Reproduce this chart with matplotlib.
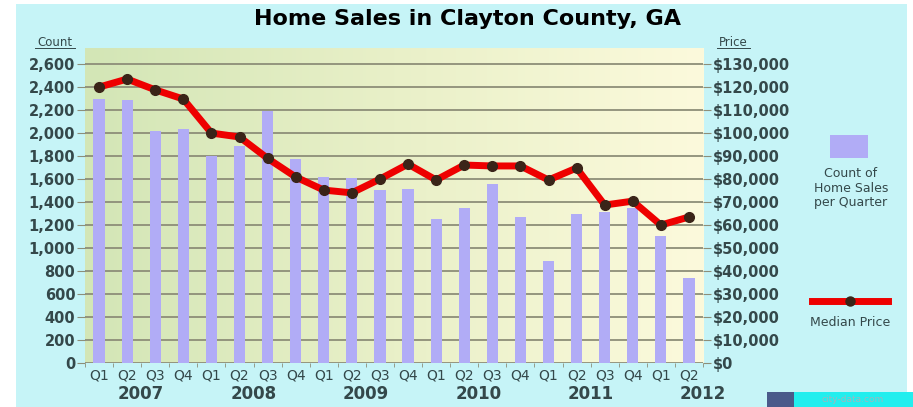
import numpy as np
import matplotlib
matplotlib.use("Agg")
import matplotlib.pyplot as plt
import matplotlib.transforms as mtransforms
from matplotlib.patches import Rectangle
from matplotlib.lines import Line2D

plt.rcParams["font.family"] = ["DejaVu Sans"]

quarters = ["Q1", "Q2", "Q3", "Q4"] * 5 + ["Q1", "Q2"]
years = ["2007", "2008", "2009", "2010", "2011", "2012"]
counts = [2300, 2290, 2020, 2035, 1800, 1890, 2190, 1775, 1620, 1610, 1505, 1515,
          1252, 1345, 1555, 1270, 888, 1298, 1315, 1345, 1104, 740]
prices = [120000, 123500, 118800, 114800, 100000, 98300, 89000, 80900, 75200, 74000,
          80000, 86500, 79600, 86100, 85700, 85700, 79600, 84800, 68700, 70400, 60000, 63500]
count_ticks = list(range(0, 2601, 200))
price_ticks = list(range(0, 130001, 10000))

txt = "#34484a"
bg = "#c6f4f7"
gridc = "#8d8e78"

fig = plt.figure(figsize=(9.13, 4.07), dpi=100)
fig.patch.set_facecolor("white")
fig.patches.append(Rectangle((16 / 913, 0), 891 / 913, 403 / 407, transform=fig.transFigure,
                             facecolor=bg, edgecolor="none", zorder=-10))

ax = fig.add_axes([85 / 913, 44 / 407, 618 / 913, 315 / 407])
ax.patch.set_alpha(0)
x = np.arange(len(counts))

# gradient plot background (green left -> pale yellow right)
grad = np.linspace(0, 1, 256)[None, :]
cmap = matplotlib.colors.LinearSegmentedColormap.from_list("bgg", ["#d3e6b6", "#e9f0c8", "#fcfadc"])
ax.imshow(grad, cmap=cmap, extent=[0, 1, 0, 1], transform=ax.transAxes, aspect="auto", zorder=0)

ax.bar(x, counts, width=0.4, color="#b1acf6", zorder=2)
ax.set_xlim(-0.47, 21.5)
ax.set_ylim(0, 2740)
ax.set_yticks(count_ticks)
ax.set_yticklabels([f"{v:,}" for v in count_ticks], fontweight="bold")
ax.set_axisbelow(True)
ax.grid(axis="y", color=gridc, linewidth=1.3)
ax.set_xticks(x)
ax.set_xticklabels(quarters)
ax.set_xticks(np.arange(-0.5, 22, 1), minor=True)
ax.tick_params(axis="x", which="major", length=0, pad=4, labelsize=10, labelcolor=txt)
ax.tick_params(axis="x", which="minor", length=3, color=gridc, direction="out")
ax.tick_params(axis="y", length=6, color=gridc, labelsize=10.5, labelcolor=txt, pad=1)
for s in ax.spines.values():
    s.set_visible(False)

ax2 = ax.twinx()
ax2.set_ylim(0, 2740 * 50)
ax2.set_yticks(price_ticks)
ax2.set_yticklabels([f"${v:,}" for v in price_ticks], fontweight="bold")
ax2.tick_params(axis="y", length=6, color=gridc, labelsize=10.5, labelcolor=txt, pad=1)
for s in ax2.spines.values():
    s.set_visible(False)
ax2.plot(x, prices, color="#ee0000", linewidth=5, marker="o", markersize=7,
         markerfacecolor="#3a2418", markeredgecolor="#3a2418", solid_joinstyle="round", zorder=3)

# year labels under quarter labels
trans = mtransforms.blended_transform_factory(ax.transData, ax.transAxes)
for i, yr in enumerate(years):
    ax.text(4 * i + 1.5, -0.097, yr, transform=trans, ha="center", va="center",
            fontsize=12, fontweight="bold", color=txt)

fig.text(467 / 913, 1 - 19 / 407, "Home Sales in Clayton County, GA", ha="center", va="center",
         fontsize=16, fontweight="bold", color="black")
fig.text(55 / 913, 1 - 42 / 407, "Count", ha="center", va="center", fontsize=8.5, color=txt)
fig.text(733 / 913, 1 - 42 / 407, "Price", ha="center", va="center", fontsize=8.5, color=txt)
fig.add_artist(Line2D([35 / 913, 75 / 913], [1 - 48 / 407] * 2, color=txt, linewidth=0.7))
fig.add_artist(Line2D([717 / 913, 750 / 913], [1 - 48 / 407] * 2, color=txt, linewidth=0.7))

# legend
fig.patches.append(Rectangle((830 / 913, 1 - 158 / 407), 38 / 913, 23 / 407, transform=fig.transFigure,
                             facecolor="#b1acf6", edgecolor="none"))
fig.text(851 / 913, 1 - 188 / 407, "Count of\nHome Sales\nper Quarter", ha="center", va="center",
         fontsize=9, color=txt, linespacing=1.15)
fig.add_artist(Line2D([812 / 913, 888 / 913], [1 - 301 / 407] * 2, color="#ee0000", linewidth=5))
fig.add_artist(Line2D([850 / 913], [1 - 301 / 407], marker="o", markersize=6.5, color="#3a2418"))
fig.text(850 / 913, 1 - 322 / 407, "Median Price", ha="center", va="center", fontsize=9, color=txt)

# watermark
fig.patches.append(Rectangle((767 / 913, 0), 27 / 913, 15 / 407, transform=fig.transFigure,
                             facecolor="#4a5a8a", edgecolor="none"))
fig.patches.append(Rectangle((794 / 913, 0), 119 / 913, 15 / 407, transform=fig.transFigure,
                             facecolor="#22eeee", edgecolor="none"))
fig.text(853 / 913, 7 / 407, "city-data.com", ha="center", va="center", fontsize=6.5, color="#9ab8c0")

fig.savefig("out.png", dpi=100, facecolor=fig.get_facecolor())
